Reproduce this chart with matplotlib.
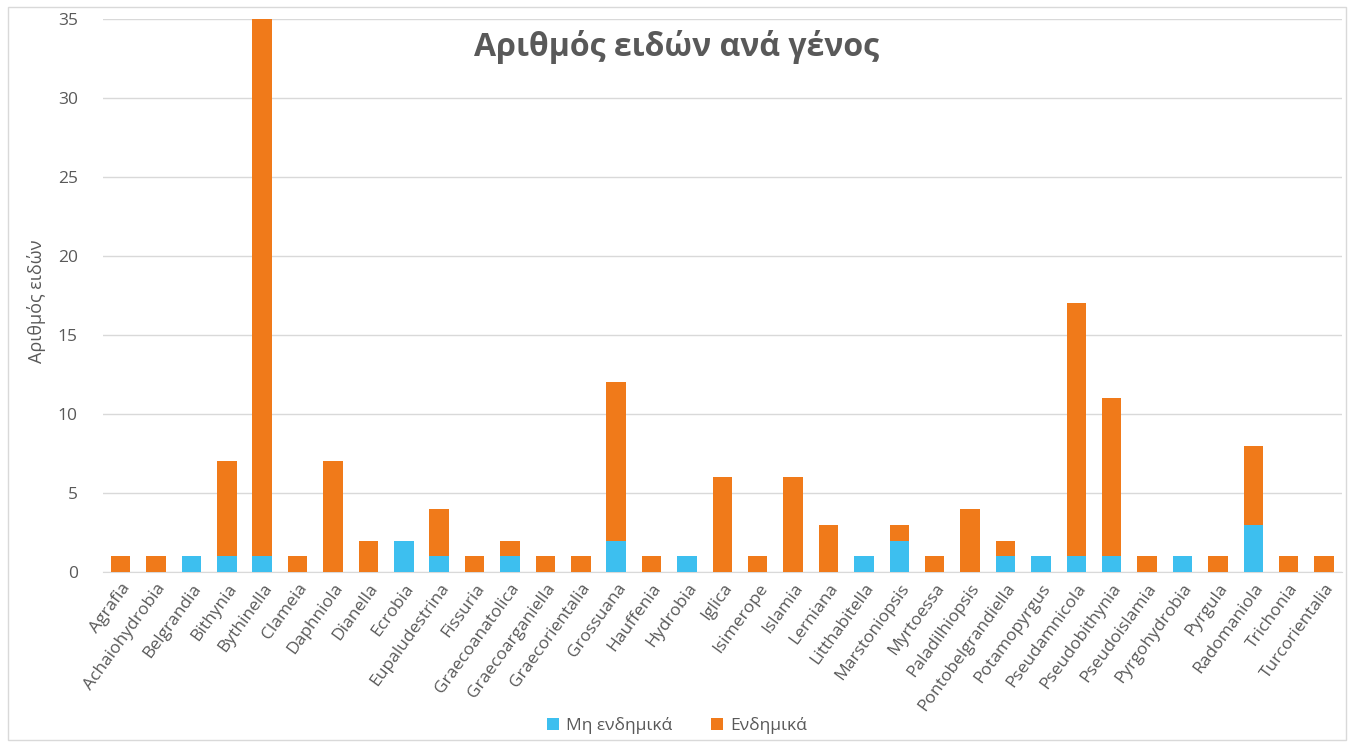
import numpy as np
import matplotlib
matplotlib.use('Agg')
import matplotlib.pyplot as plt
from matplotlib.patches import Rectangle

# δεδομένα
genera = ['Agrafia', 'Achaiohydrobia', 'Belgrandia', 'Bithynia', 'Bythinella', 'Clameia',
          'Daphniola', 'Dianella', 'Ecrobia', 'Eupaludestrina', 'Fissuria', 'Graecoanatolica',
          'Graecoarganiella', 'Graecorientalia', 'Grossuana', 'Hauffenia', 'Hydrobia', 'Iglica',
          'Isimerope', 'Islamia', 'Lerniana', 'Litthabitella', 'Marstoniopsis', 'Myrtoessa',
          'Paladilhiopsis', 'Pontobelgrandiella', 'Potamopyrgus', 'Pseudamnicola',
          'Pseudobithynia', 'Pseudoislamia', 'Pyrgohydrobia', 'Pyrgula', 'Radomaniola',
          'Trichonia', 'Turcorientalia']
non_endemic = [0, 0, 1, 1, 1, 0, 0, 0, 2, 1, 0, 1, 0, 0, 2, 0, 1, 0, 0, 0, 0, 1, 2, 0,
               0, 1, 1, 1, 1, 0, 1, 0, 3, 0, 0]
endemic = [1, 1, 0, 6, 34, 1, 7, 2, 0, 3, 1, 1, 1, 1, 10, 1, 0, 6, 1, 6, 3, 0, 1, 1,
           4, 1, 0, 16, 10, 1, 0, 1, 5, 1, 1]
series_names = ['Μη ενδημικά', 'Ενδημικά']

plt.rcParams['font.family'] = ['Open Sans', 'DejaVu Sans']
grey = '#595959'
blue = '#3DBFEF'
orange = '#F07A1A'

fig = plt.figure(figsize=(13.54, 7.47), dpi=100)
ax = fig.add_axes([0.076, 0.234, 0.915, 0.741])

x = np.arange(len(genera))
ax.bar(x, non_endemic, width=0.55, color=blue, label=series_names[0], zorder=3)
ax.bar(x, endemic, width=0.55, bottom=non_endemic, color=orange, label=series_names[1], zorder=3)

ax.set_xlim(-0.5, len(genera) - 0.5)
ax.set_ylim(0, 35)
ax.set_yticks(range(0, 36, 5))
ax.yaxis.grid(True, color='#D9D9D9', linewidth=1, zorder=0)
for s in ax.spines.values():
    s.set_visible(False)
ax.spines['bottom'].set_visible(True)
ax.spines['bottom'].set_color('#D9D9D9')
ax.tick_params(axis='both', length=0, colors=grey, labelsize=12.5)
ax.tick_params(axis='y', pad=18)
ax.tick_params(axis='x', pad=6)
ax.set_xticks(x)
ax.set_xticklabels(genera, rotation=54, ha='right', rotation_mode='anchor')

ax.set_ylabel('Αριθμός ειδών', color=grey, fontsize=13)
ax.yaxis.set_label_coords(-0.046, 0.49)

fig.text(0.5, 0.937, 'Αριθμός ειδών ανά γένος', ha='center', va='center',
         fontsize=23, fontweight='bold', color=grey)

fig.legend(loc='center', bbox_to_anchor=(0.5, 0.029), ncol=2, frameon=False,
           fontsize=12.5, labelcolor=grey, handlelength=0.7, handleheight=0.7,
           columnspacing=2.2, handletextpad=0.4)

fig.patches.append(Rectangle((0.006, 0.01), 0.988, 0.98, transform=fig.transFigure,
                             fill=False, edgecolor='#D9D9D9', linewidth=1))

fig.savefig('out.png', dpi=100, facecolor='white')
